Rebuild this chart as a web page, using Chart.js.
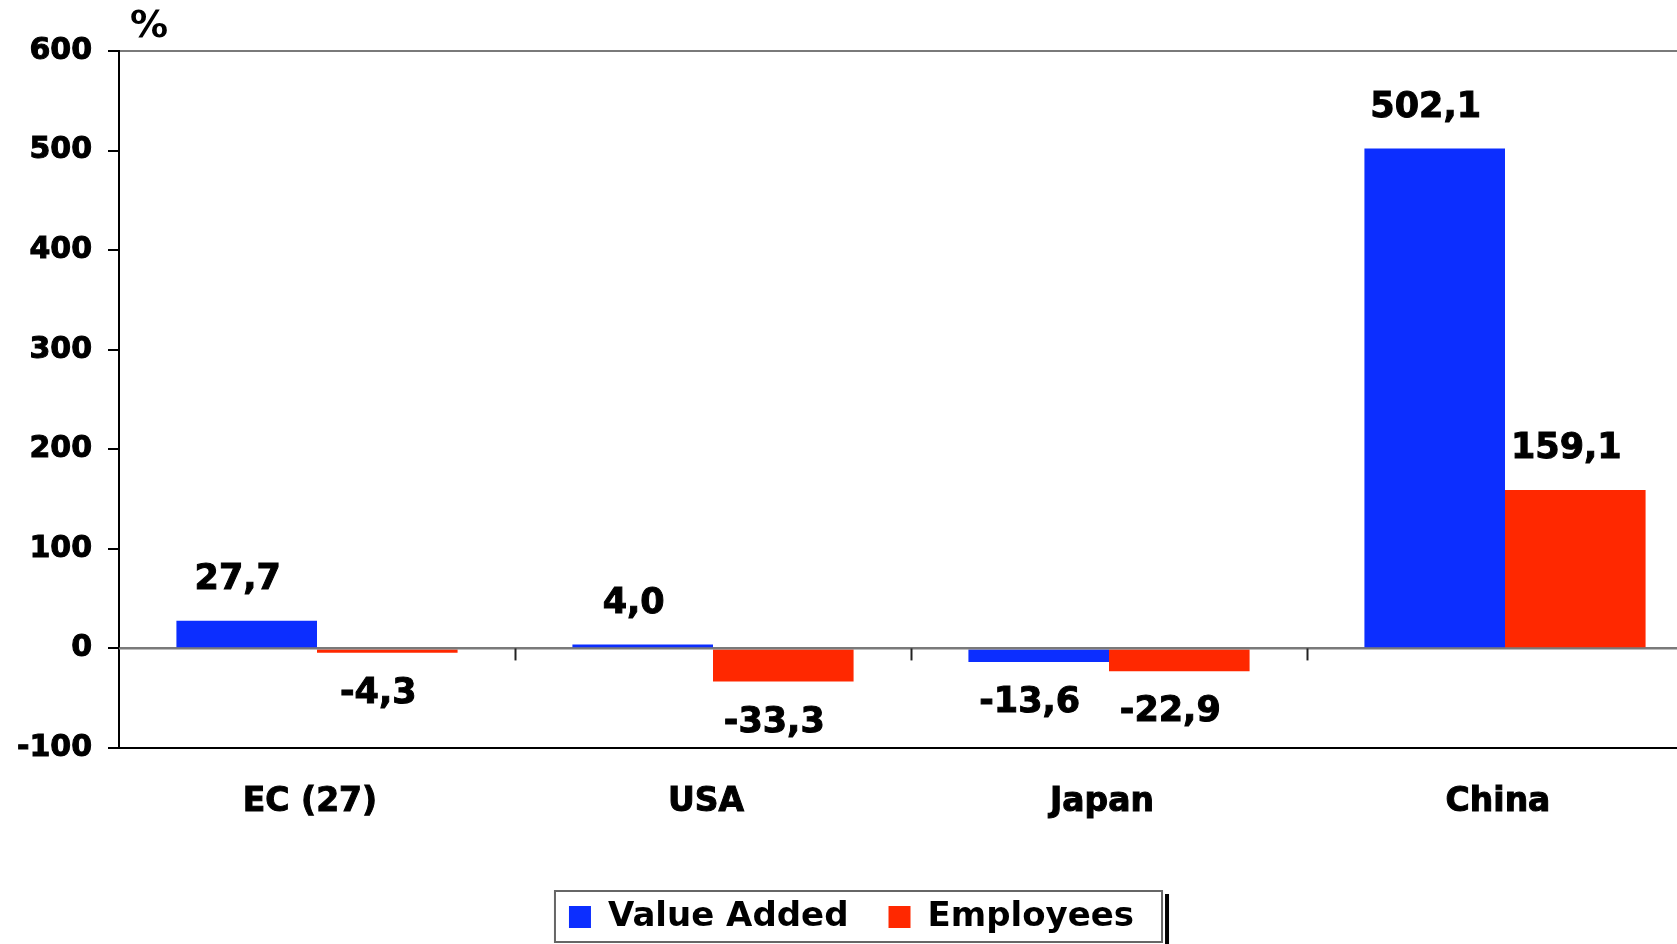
<!DOCTYPE html>
<html><head><meta charset="utf-8">
<script src="https://cdn.jsdelivr.net/npm/chart.js@4"></script>
<style>html,body{margin:0;padding:0;overflow:hidden;background:#fff;width:1677px;height:944px}
#wrap{width:1703px;height:944px;position:relative}</style></head>
<body><div id="wrap"><canvas id="c" width="1703" height="944"></canvas></div>
<script>
const categories = ['EC (27)', 'USA', 'Japan', 'China'];
const seriesNames = ['Value Added', 'Employees'];
const valueAdded = [27.7, 4.0, -13.6, 502.1];
const employees = [-4.3, -33.3, -22.9, 159.1];
const yMin = -100, yMax = 600, yStep = 100;
const unitLabel = '%';

const FONT = '"DejaVu Sans", "Liberation Sans", sans-serif';
Chart.defaults.font.family = FONT;
Chart.defaults.font.weight = 'bold';
Chart.defaults.color = '#000';

const extras = {
  id: 'extras',
  afterDatasetsDraw(chart) {
    const {ctx, chartArea: a, scales: {x, y}} = chart;
    ctx.save();
    const y0 = y.getPixelForValue(0);
    ctx.strokeStyle = '#7a7a7a'; ctx.lineWidth = 2;
    ctx.beginPath(); ctx.moveTo(a.left, y0); ctx.lineTo(a.right, y0); ctx.stroke();
    const half = (x.getPixelForValue(1) - x.getPixelForValue(0)) / 2;
    ctx.strokeStyle = '#222'; ctx.lineWidth = 2;
    for (let i = 0; i < categories.length; i++) {
      const bx = Math.round(x.getPixelForValue(i) + half) + 0.5;
      ctx.beginPath(); ctx.moveTo(bx, y0); ctx.lineTo(bx, y0 + 12); ctx.stroke();
    }
    ctx.font = 'bold 35px ' + FONT; ctx.fillStyle = '#000'; ctx.strokeStyle = '#000'; ctx.lineWidth = 1;
    ctx.textAlign = 'center'; ctx.textBaseline = 'middle';
    chart.data.datasets.forEach((ds, di) => {
      chart.getDatasetMeta(di).data.forEach((el, i) => {
        const v = ds.data[i];
        const ly = v >= 0 ? el.y - 41 : el.y + 41;
        const t = v.toFixed(1).replace('.', ',');
        ctx.fillText(t, el.x - 9, ly);
        ctx.strokeText(t, el.x - 9, ly);
      });
    });
    ctx.font = 'bold 38px ' + FONT;
    ctx.fillText(unitLabel, a.left + 30, a.top - 24);
    ctx.restore();
  },
  afterDraw(chart) {
    const lg = chart.legend; if (!lg || !lg.legendHitBoxes || !lg.legendHitBoxes.length) return;
    const hb = lg.legendHitBoxes, f = hb[0], l = hb[hb.length - 1];
    const ctx = chart.ctx; ctx.save();
    const cy = f.top + f.height / 2;
    const L = f.left - 14, R = l.left + l.width + 28, T = cy - 26, B = cy + 25;
    ctx.strokeStyle = '#666'; ctx.lineWidth = 2;
    ctx.strokeRect(L, T, R - L, B - T);
    ctx.fillStyle = '#000';
    ctx.fillRect(R + 3, T + 3, 4, 944 - T);
    ctx.restore();
  }
};

new Chart(document.getElementById('c'), {
  type: 'bar',
  data: {
    labels: categories,
    datasets: [
      {label: seriesNames[0], data: valueAdded, backgroundColor: '#0C2EFF', borderWidth: 0},
      {label: seriesNames[1], data: employees, backgroundColor: '#FF2800', borderWidth: 0}
    ]
  },
  options: {
    responsive: false,
    devicePixelRatio: 1,
    animation: false,
    categoryPercentage: 0.71,
    barPercentage: 1.0,
    layout: {padding: {top: 51, left: 0, right: 0, bottom: 0}},
    plugins: {
      tooltip: {enabled: false},
      legend: {
        position: 'bottom',
        labels: {boxWidth: 22, boxHeight: 22, padding: 40, font: {size: 34, weight: 'bold'}, color: '#000'}
      }
    },
    scales: {
      x: {
        grid: {color: 'rgba(0,0,0,0)', drawTicks: false},
        border: {display: true, color: '#000', width: 2},
        ticks: {padding: 35, labelOffset: -7, font: {size: 33, weight: 'bold'}, color: '#000', textStrokeColor: '#000', textStrokeWidth: 1},
        afterFit(s) { s.height = 112; }
      },
      y: {
        min: yMin, max: yMax,
        ticks: {stepSize: yStep, padding: 16, font: {size: 30, weight: 'bold'}, color: '#000', textStrokeColor: '#000', textStrokeWidth: 1},
        grid: {
          color: (c) => (c.tick && (c.tick.value === yMax || c.tick.value === 0)) ? '#7a7a7a' : (c.tick && c.tick.value === yMin ? '#000' : 'rgba(0,0,0,0)'),
          lineWidth: 2, tickColor: '#000', tickLength: 11, tickWidth: 2
        },
        border: {display: true, color: '#000', width: 2},
        afterFit(s) { s.width = 119; }
      }
    }
  },
  plugins: [extras]
});
</script></body></html>
